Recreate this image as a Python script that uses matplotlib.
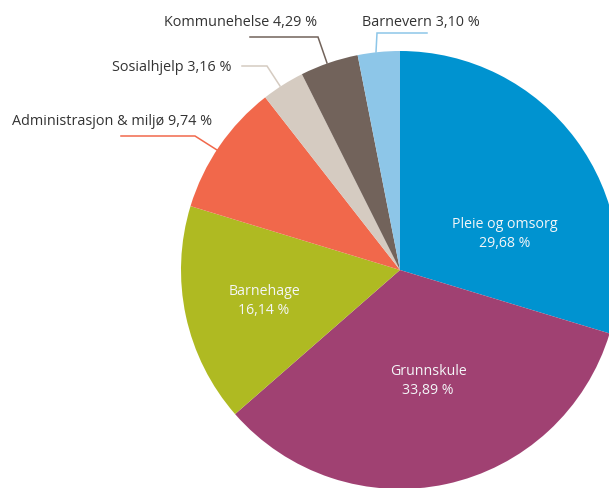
import matplotlib.pyplot as plt

labels = ["Pleie og omsorg", "Grunnskule", "Barnehage", "Administrasjon & miljø",
          "Sosialhjelp", "Kommunehelse", "Barnevern"]
shares = [29.68, 33.89, 16.14, 9.74, 3.16, 4.29, 3.10]
colors = ["#0093d0", "#a04172", "#afba22", "#f1684b", "#d5cbc1", "#72635b", "#8dc6e8"]

W, H = 609, 489
plt.rcParams['font.family'] = ['Open Sans', 'DejaVu Sans']

fig = plt.figure(figsize=(W / 100, H / 100), dpi=100)
ax = fig.add_axes([0, 0, 1, 1])

def pct(v):
    return f"{v:.2f}".replace(".", ",") + " %"

# pie centre / radius in pixel units (y measured from the top)
cx, cy, r = 400, 271, 219
ax.pie(shares, colors=colors, startangle=90, counterclock=False,
       center=(cx, H - cy), radius=r, frame=True,
       wedgeprops=dict(linewidth=0))
ax.set_xlim(0, W)
ax.set_ylim(0, H)
ax.set_aspect('equal')
ax.axis('off')

# labels inside the big wedges
inside = {0: (505, 234), 1: (428, 381), 2: (264, 301)}
for i, (x, y) in inside.items():
    ax.text(x, H - y, f"{labels[i]}\n{pct(shares[i])}", color="#f4f6f8",
            ha="center", va="center", fontsize=10.2, linespacing=1.35)

# labels outside with leader lines: text anchor (left), line points
outside = {
    3: ((12, 122), [(121, 137), (195, 137), (217, 151)]),
    4: ((112, 68), [(242, 67), (267, 67), (280, 87)]),
    5: ((164, 23), [(250, 38), (318, 38), (327, 64)]),
    6: ((362, 23), [(427, 34), (377, 34), (376, 53)]),
}
for i, ((tx, ty), pts) in outside.items():
    ax.text(tx, H - ty, f"{labels[i]} {pct(shares[i])}", color="#333333",
            ha="left", va="center", fontsize=10.4)
    ax.plot([p[0] for p in pts], [H - p[1] for p in pts], color=colors[i],
            lw=1.1, solid_joinstyle='miter')

fig.savefig("out.png", dpi=100)
